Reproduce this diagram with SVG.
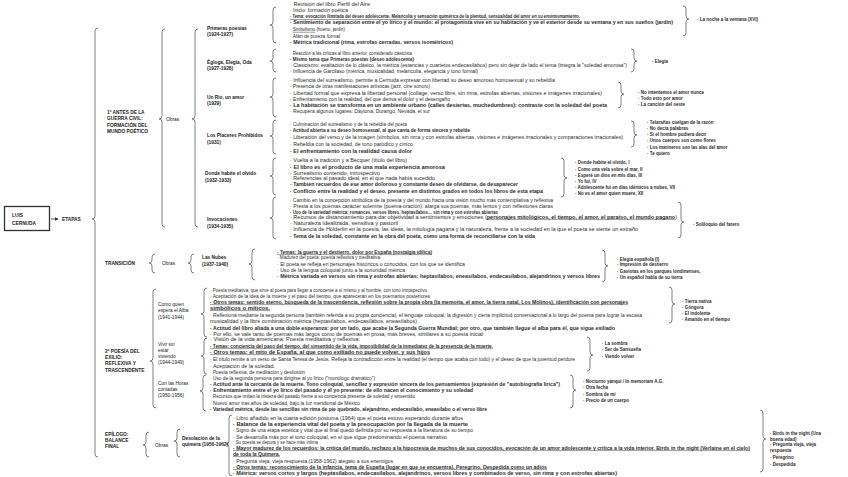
<svg xmlns="http://www.w3.org/2000/svg" width="848" height="477" viewBox="0 0 848 477">
<defs>
<style>
.t{font-family:"Liberation Sans",Arial,sans-serif;font-size:4.5px;fill:#2b2b2b}
.b{font-weight:bold}
.u{text-decoration:underline}
.h{font-family:"Liberation Sans",Arial,sans-serif;font-size:4.8px;font-weight:bold;fill:#222}
.n{font-family:"Liberation Sans",Arial,sans-serif;font-size:4.8px;fill:#222}
.br{fill:none;stroke:#808080;stroke-width:1}
.box{fill:#fff;stroke:#333;stroke-width:1.3}
</style>
<marker id="ah" viewBox="0 0 6 6" refX="5" refY="3" markerWidth="5" markerHeight="5" orient="auto"><path d="M0,0 L6,3 L0,6 z" fill="#333"/></marker>
</defs>
<rect width="848" height="477" fill="#fff"/>

<g id="connectors">
<line x1="51" y1="219" x2="58" y2="219" stroke="#333" stroke-width="0.8" marker-end="url(#ah)"/>
<path class="br" d="M98,28 Q95,28 95,31 L95,216 Q95,219 92,219 Q95,219 95,222 L95,454 Q95,457 98,457"/>
<path class="br" d="M165,29 Q162,29 162,32 L162,116 Q162,119 159,119 Q162,119 162,122 L162,224 Q162,227 165,227"/>
<path class="br" d="M198,29 Q195,29 195,32 L195,116 Q195,119 192,119 Q195,119 195,122 L195,224 Q195,227 198,227"/>
<path class="br" d="M276,7 Q273,7 273,10 L273,22 Q273,25 270,25 Q273,25 273,28 L273,40 Q273,43 276,43"/>
<path class="br" d="M276,49 Q273,49 273,52 L273,58 Q273,61 270,61 Q273,61 273,64 L273,69 Q273,72 276,72"/>
<path class="br" d="M276,78 Q273,78 273,81 L273,94 Q273,97 270,97 Q273,97 273,100 L273,114 Q273,117 276,117"/>
<path class="br" d="M276,120 Q273,120 273,123 L273,133 Q273,136 270,136 Q273,136 273,139 L273,151 Q273,154 276,154"/>
<path class="br" d="M276,158 Q273,158 273,161 L273,173 Q273,176 270,176 Q273,176 273,179 L273,192 Q273,195 276,195"/>
<path class="br" d="M276,197 Q273,197 273,200 L273,215 Q273,218 270,218 Q273,218 273,221 L273,236 Q273,239 276,239"/>
<path class="br" d="M155,254 Q152,254 152,257 L152,260 Q152,263 149,263 Q152,263 152,266 L152,270 Q152,273 155,273"/>
<path class="br" d="M194,254 Q191,254 191,257 L191,260 Q191,263 188,263 Q191,263 191,266 L191,270 Q191,273 194,273"/>
<path class="br" d="M255,249 Q252,249 252,252 L252,261 Q252,264 249,264 Q252,264 252,267 L252,277 Q252,280 255,280"/>
<path class="br" d="M156,289 Q153,289 153,292 L153,358 Q153,361 150,361 Q153,361 153,364 L153,405 Q153,408 156,408"/>
<path class="br" d="M207,288 Q204,288 204,291 L204,311 Q204,314 201,314 Q204,314 204,317 L204,334 Q204,337 207,337"/>
<path class="br" d="M207,338 Q204,338 204,341 L204,353 Q204,356 201,356 Q204,356 204,359 L204,371 Q204,374 207,374"/>
<path class="br" d="M206,375 Q203,375 203,378 L203,388 Q203,391 200,391 Q203,391 203,394 L203,408 Q203,411 206,411"/>
<path class="br" d="M149,432 Q146,432 146,435 L146,442 Q146,445 143,445 Q146,445 146,448 L146,454 Q146,457 149,457"/>
<path class="br" d="M180,429 Q177,429 177,432 L177,438 Q177,441 174,441 Q177,441 177,444 L177,454 Q177,457 180,457"/>
<path class="br" d="M232,415 Q229,415 229,418 L229,441 Q229,444 226,444 Q229,444 229,447 L229,473 Q229,476 232,476"/>
<path class="br" d="M683,6 Q686,6 686,9 L686,16 Q686,19 689,19 Q686,19 686,22 L686,33 Q686,36 683,36"/>
<path class="br" d="M631,49 Q634,49 634,52 L634,58 Q634,61 637,61 Q634,61 634,64 L634,69 Q634,72 631,72"/>
<path class="br" d="M618,82 Q621,82 621,85 L621,91 Q621,94 624,94 Q621,94 621,97 L621,105 Q621,108 618,108"/>
<path class="br" d="M631,121 Q634,121 634,124 L634,132 Q634,135 637,135 Q634,135 634,138 L634,144 Q634,147 631,147"/>
<path class="br" d="M561,158 Q564,158 564,161 L564,175 Q564,178 567,178 Q564,178 564,181 L564,194 Q564,197 561,197"/>
<path class="br" d="M678,202 Q681,202 681,205 L681,219 Q681,222 684,222 Q681,222 681,225 L681,235 Q681,238 678,238"/>
<path class="br" d="M602,250 Q605,250 605,253 L605,263 Q605,266 608,266 Q605,266 605,269 L605,279 Q605,282 602,282"/>
<path class="br" d="M669,287 Q672,287 672,290 L672,301 Q672,304 675,304 Q672,304 672,307 L672,320 Q672,323 669,323"/>
<path class="br" d="M587,337 Q590,337 590,340 L590,352 Q590,355 593,355 Q590,355 590,358 L590,368 Q590,371 587,371"/>
<path class="br" d="M570,375 Q573,375 573,378 L573,387 Q573,390 576,390 Q573,390 573,393 L573,405 Q573,408 570,408"/>
<path class="br" d="M760,410 Q763,410 763,413 L763,436 Q763,439 766,439 Q763,439 763,442 L763,469 Q763,472 760,472"/>
</g>

<g id="root">
<rect class="box" x="4.5" y="206.5" width="45" height="24"/>
<text class="h" x="12" y="217">LUIS</text>
<text class="h" x="12" y="224.5">CERNUDA</text>
</g>
<g id="etapas"><text class="h" x="62" y="220.8">ETAPAS</text></g>

<g id="etapa1">
<text class="h" x="107" y="114">1º ANTES DE LA</text>
<text class="h" x="107" y="120.4">GUERRA CIVIL:</text>
<text class="h" x="107" y="126.8">FORMACIÓN DEL</text>
<text class="h" x="107" y="133.2">MUNDO POÉTICO</text>
<text class="n" x="166" y="120.6">Obras</text>
</g>

<g id="primeras">
<text class="h" x="207" y="29.6">Primeras poesías</text>
<text class="h" x="207" y="35.8">(1924-1927)</text>
<text class="t" x="290" y="5.6" textLength="80" lengthAdjust="spacingAndGlyphs">· Revisión del libro Perfil del Aire</text>
<text class="t" x="290" y="11.6" textLength="58" lengthAdjust="spacingAndGlyphs">· Inicio: formación poética</text>
<text class="t b u" x="290" y="18.3" textLength="290" lengthAdjust="spacingAndGlyphs">· Tema: evocación ilimitada del deseo adolescente. Melancolía y sensación quimérica de la plenitud, sensualidad del amor en su ensimismamiento.</text>
<text class="t b" x="290" y="24.3" textLength="383" lengthAdjust="spacingAndGlyphs">· Sentimiento de separación entre el yo lírico y el mundo: el protagonista vive en su habitación y ve el exterior desde su ventana y en sus sueños (jardín)</text>
<text class="t" x="290" y="30.9" textLength="55" lengthAdjust="spacingAndGlyphs">· <tspan class="u">Simbolismo</tspan> (huerto, jardín)</text>
<text class="t" x="290" y="37.6" textLength="50" lengthAdjust="spacingAndGlyphs">· Afán de pureza formal</text>
<text class="t b" x="290" y="44.3" textLength="163" lengthAdjust="spacingAndGlyphs">· Métrica tradicional (rima, estrofas cerradas, versos isométricos)</text>
<text class="t b" x="697" y="20.6">· La noche a la ventana (XVI)</text>
</g>

<g id="egloga">
<text class="h" x="207" y="63.6">Égloga, Elegía, Oda</text>
<text class="h" x="207" y="69.8">(1927-1928)</text>
<text class="t" x="290" y="54.6" textLength="122" lengthAdjust="spacingAndGlyphs">· Reacción a las críticas al libro anterior, considerado clasicista</text>
<text class="t b" x="290" y="60.6" textLength="124" lengthAdjust="spacingAndGlyphs">· Mismo tema que Primeras poesías (deseo adolescente)</text>
<text class="t" x="290" y="66.6" textLength="337" lengthAdjust="spacingAndGlyphs">· Clasicismo: exaltación de lo clásico, la métrica (estancias y cuartetos endecasílabos) pero sin dejar de lado el tema (integra la "soledad amorosa")</text>
<text class="t" x="290" y="72.6" textLength="188" lengthAdjust="spacingAndGlyphs">· Influencia de Garcilaso (métrica, musicalidad, melancolía, elegancia y tono formal)</text>
<text class="t b" x="652" y="62.6">· Elegía</text>
</g>

<g id="unrio">
<text class="h" x="207" y="98.6">Un Río, un amor</text>
<text class="h" x="207" y="104.8">(1929)</text>
<text class="t" x="290" y="81.6" textLength="265" lengthAdjust="spacingAndGlyphs">· Influencia del surrealismo, permite a Cernuda expresar con libertad su deseo amoroso homosexual y su rebeldía</text>
<text class="t" x="290" y="87.6" textLength="140" lengthAdjust="spacingAndGlyphs">· Presencia de otras manifestaciones artísticas (jazz, cine sonoro)</text>
<text class="t" x="290" y="94.6" textLength="312" lengthAdjust="spacingAndGlyphs">· Libertad formal que expresa la libertad personal (collage, verso libre, sin rima, estrofas abiertas, visiones e imágenes irracionales)</text>
<text class="t" x="290" y="100.6" textLength="160" lengthAdjust="spacingAndGlyphs">· Enfrentamiento con la realidad, del que deriva el dolor y el desengaño</text>
<text class="t b" x="290" y="106.6" textLength="317" lengthAdjust="spacingAndGlyphs">· La habitación se transforma en un ambiente urbano (calles desiertas, muchedumbres): contraste con la soledad del poeta</text>
<text class="t" x="290" y="112.6" textLength="140" lengthAdjust="spacingAndGlyphs">· Recupera algunos lugares: Daytona, Durango, Nevada, el sur</text>
<text class="t b" x="638" y="94.3">· No intentemos el amor nunca</text>
<text class="t b" x="638" y="100.3">· Todo esto por amor</text>
<text class="t b" x="638" y="105.9">· La canción del oeste</text>
</g>

<g id="placeres">
<text class="h" x="207" y="136.6">Los Placeres Prohibidos</text>
<text class="h" x="207" y="143.6">(1931)</text>
<text class="t" x="290" y="125.6" textLength="117" lengthAdjust="spacingAndGlyphs">· Culminación del surrealismo y de la rebeldía del poeta</text>
<text class="t b" x="290" y="131.6" textLength="180" lengthAdjust="spacingAndGlyphs">· Actitud abierta a su deseo homosexual, al que canta de forma sincera y rebelde</text>
<text class="t" x="290" y="138.6" textLength="333" lengthAdjust="spacingAndGlyphs">· Liberación del verso y de la imagen (símbolos, sin rima y con estrofas abiertas, visiones e imágenes irracionales y comparaciones irracionales)</text>
<text class="t" x="290" y="145.6" textLength="123" lengthAdjust="spacingAndGlyphs">· Rebeldía con la sociedad, de tono paródico y cínico</text>
<text class="t b" x="290" y="152.6" textLength="122" lengthAdjust="spacingAndGlyphs">· El enfrentamiento con la realidad causa dolor</text>
<text class="t b" x="647" y="123.6">· Telarañas cuelgan de la razón</text>
<text class="t b" x="647" y="129.6">· No decía palabras</text>
<text class="t b" x="647" y="135.6">· Si el hombre pudiera decir</text>
<text class="t b" x="647" y="141.6">· Unos cuerpos son como flores</text>
<text class="t b" x="647" y="148.6">· Los marineros son las alas del amor</text>
<text class="t b" x="647" y="154.6">· Te quiero</text>
</g>

<g id="donde">
<text class="h" x="205" y="174.6">Donde habite el olvido</text>
<text class="h" x="205" y="181.6">(1932-1933)</text>
<text class="t" x="290" y="161.6" textLength="117" lengthAdjust="spacingAndGlyphs">· Vuelta a la tradición y a Bécquer (título del libro)</text>
<text class="t b" x="290" y="168.6" textLength="155" lengthAdjust="spacingAndGlyphs">· El libro es el producto de una mala experiencia amorosa</text>
<text class="t" x="290" y="174.6" textLength="90" lengthAdjust="spacingAndGlyphs">· Surrealismo contenido, introspectivo</text>
<text class="t" x="290" y="179.6" textLength="145" lengthAdjust="spacingAndGlyphs">· Referencias al pasado ideal, en el que nada había sucedido</text>
<text class="t b" x="290" y="185.6" textLength="228" lengthAdjust="spacingAndGlyphs">· También recuerdos de ese amor doloroso y constante deseo de olvidarse, de desaparecer</text>
<text class="t b" x="290" y="192.6" textLength="253" lengthAdjust="spacingAndGlyphs">· Conflicto entre la realidad y el deseo, presente en distintos grados en todos los libros de esta etapa</text>
<text class="t b" x="575" y="163.6">· Donde habite el olvido, I</text>
<text class="t b" x="575" y="170.6">· Como una vela sobre el mar, II</text>
<text class="t b" x="575" y="176.6">· Esperé un dios en mis días, III</text>
<text class="t b" x="575" y="182.6">· Yo fui, IV</text>
<text class="t b" x="575" y="188.6">· Adolescente fui en días idénticos a nubes, VII</text>
<text class="t b" x="575" y="194.6">· No es el amor quien muere, XII</text>
</g>

<g id="invocaciones">
<text class="h" x="207" y="220.6">Invocaciones</text>
<text class="h" x="207" y="227.6">(1934-1935)</text>
<text class="t" x="290" y="201.6" textLength="263" lengthAdjust="spacingAndGlyphs">· Cambio en la concepción simbólica de la poesía y del mundo hacia una visión mucho más contemplativa y reflexiva</text>
<text class="t" x="290" y="207.6" textLength="263" lengthAdjust="spacingAndGlyphs">· Presta a los poemas carácter solemne (poema-oración): alarga sus poemas, más lentos y con reflexiones claras</text>
<text class="t b" x="290" y="213.6" textLength="208" lengthAdjust="spacingAndGlyphs">· Uso de la variedad métrica: romances, versos libres, heptasílabos… sin rima y con estrofas abiertas</text>
<text class="t" x="290" y="218.6" textLength="387" lengthAdjust="spacingAndGlyphs">· Recursos de distanciamiento para dar objetividad a sentimientos y emociones (<tspan class="u b">personajes mitológicos, el tiempo, el amor, el paraíso, el mundo pagano</tspan>)</text>
<text class="t" x="290" y="224.6" textLength="108" lengthAdjust="spacingAndGlyphs">· Naturaleza idealizada, sensitiva y pastoril</text>
<text class="t" x="290" y="230.6" textLength="348" lengthAdjust="spacingAndGlyphs">· Influencia de Hölderlin en la poesía, las ideas, la mitología pagana y la naturaleza, frente a la sociedad en la que el poeta se siente un extraño</text>
<text class="t b" x="290" y="237.6" textLength="245" lengthAdjust="spacingAndGlyphs">· Tema de la soledad, constante en la obra del poeta, como una forma de reconciliarse con la vida</text>
<text class="t b" x="693" y="225.6">· Soliloquio del farero</text>
</g>

<g id="transicion">
<text class="h" x="105" y="264.6">TRANSICIÓN</text>
<text class="n" x="162" y="264.6">Obras</text>
<text class="h" x="202" y="258.6">Las Nubes</text>
<text class="h" x="202" y="265.6">(1937-1940)</text>
<text class="t b u" x="277" y="253.6" textLength="155" lengthAdjust="spacingAndGlyphs">· Temas: la guerra y el destierro, dolor por España (nostalgia idílica)</text>
<text class="t" x="277" y="258.6" textLength="103" lengthAdjust="spacingAndGlyphs">· Madurez del poeta: poesía reflexiva y meditativa</text>
<text class="t" x="277" y="265.6" textLength="188" lengthAdjust="spacingAndGlyphs">· El poeta se refleja en personajes históricos o conocidos, con los que se identifica</text>
<text class="t" x="277" y="271.6" textLength="128" lengthAdjust="spacingAndGlyphs">· Uso de la lengua coloquial junto a la sonoridad métrica</text>
<text class="t b" x="277" y="277.6" textLength="323" lengthAdjust="spacingAndGlyphs">· Métrica variada en versos sin rima y estrofas abiertas: heptasílabos, eneasílabos, endecasílabos, alejandrinos y versos libres</text>
<text class="t b" x="617" y="260.6">· Elegía española (I)</text>
<text class="t b" x="617" y="265.6">· Impresión de destierro</text>
<text class="t b" x="617" y="272.6">· Gaviotas en los parques londinenses,</text>
<text class="t b" x="617" y="278.6">· Un español habla de su tierra</text>
</g>

<g id="etapa2">
<text class="h" x="105" y="352.6">2º POESÍA DEL</text>
<text class="h" x="105" y="359">EXILIO:</text>
<text class="h" x="105" y="365.4">REFLEXIVA Y</text>
<text class="h" x="105" y="371.8">TRASCENDENTE</text>
</g>

<g id="comoquien">
<text class="n" x="158" y="305.6">Como quien</text>
<text class="n" x="158" y="312.4">espera el Alba</text>
<text class="n" x="158" y="319.2">(1941-1944)</text>
<text class="t" x="210" y="291.6" textLength="217" lengthAdjust="spacingAndGlyphs">· Poesía meditativa, que sirve al poeta para llegar a conocerse a sí mismo y al hombre, con tono introspectivo</text>
<text class="t" x="210" y="297.6" textLength="220" lengthAdjust="spacingAndGlyphs">· Aceptación de la idea de la muerte y el paso del tiempo, que aparecerán en los poemarios posteriores</text>
<text class="t b u" x="210" y="303.6" textLength="418" lengthAdjust="spacingAndGlyphs">· Otros temas: sentido eterno, búsqueda de la trascendencia, reflexión sobre la propia obra (la memoria, el amor, la tierra natal, Los Molinos), identificación con personajes</text>
<text class="t b u" x="210" y="309.6" textLength="60" lengthAdjust="spacingAndGlyphs">simbólicos o míticos.</text>
<text class="t" x="210" y="316.6" textLength="432" lengthAdjust="spacingAndGlyphs">· Reflexiona mediante la segunda persona (también referida a su propia conciencia), el lenguaje coloquial, la digresión y cierta implicitud conversacional a lo largo del poema para lograr la escasa</text>
<text class="t" x="210" y="322.6" textLength="207" lengthAdjust="spacingAndGlyphs">musicalidad y la libre combinación métrica (heptasílabos, endecasílabos, eneasílabos)</text>
<text class="t b" x="210" y="329.6" textLength="405" lengthAdjust="spacingAndGlyphs">· Actitud del libro aliada a una doble esperanza: por un lado, que acabe la Segunda Guerra Mundial; por otro, que también llegue el alba para él, que sigue exiliado</text>
<text class="t" x="210" y="335.6" textLength="273" lengthAdjust="spacingAndGlyphs">· Por ello, se vale tanto de poemas más largos como de poemas en prosa, más breves, similares a su poesía inicial</text>
<text class="t b" x="682" y="302.6">· Tierra nativa</text>
<text class="t b" x="682" y="308.6">· Góngora</text>
<text class="t b" x="682" y="314.6">· El indolente</text>
<text class="t b" x="682" y="320.6">· Amando en el tiempo</text>
</g>

<g id="vivir">
<text class="n" x="158" y="345.6">Vivir sin</text>
<text class="n" x="158" y="351.6">estar</text>
<text class="n" x="158" y="357.6">viviendo</text>
<text class="n" x="158" y="363.6">(1944-1949)</text>
<text class="t" x="210" y="340.6" textLength="150" lengthAdjust="spacingAndGlyphs">· Visión de la vida americana: Poesía meditativa y reflexiva:</text>
<text class="t b u" x="210" y="347.6" textLength="283" lengthAdjust="spacingAndGlyphs">· Temas: conciencia del paso del tiempo, del sinsentido de la vida, imposibilidad de la inmediatez de la presencia de la muerte.</text>
<text class="t b u" x="210" y="353.6" textLength="220" lengthAdjust="spacingAndGlyphs">· Otros temas: el mito de España, al que como exiliado no puede volver, y sus hijos</text>
<text class="t" x="210" y="360.6" textLength="365" lengthAdjust="spacingAndGlyphs">· El título remite a un verso de Santa Teresa de Jesús. Refleja la contradicción entre la realidad (el tiempo que acaba con todo) y el deseo de que la juventud perdure</text>
<text class="t" x="210" y="367.6" textLength="65" lengthAdjust="spacingAndGlyphs">· Aceptación de la soledad.</text>
<text class="t" x="210" y="373.6" textLength="95" lengthAdjust="spacingAndGlyphs">· Poesía reflexiva, de meditación y desilusión</text>
<text class="t b" x="602" y="344.6">· La sombra</text>
<text class="t b" x="602" y="350.6">· Ser de Sansueña</text>
<text class="t b" x="602" y="357.6">· Viendo volver</text>
</g>

<g id="horas">
<text class="n" x="158" y="384.6">Con las Horas</text>
<text class="n" x="158" y="390.6">contadas</text>
<text class="n" x="158" y="396.6">(1950-1956)</text>
<text class="t" x="210" y="379.6" textLength="165" lengthAdjust="spacingAndGlyphs">· Uso de la segunda persona para dirigirse al yo lírico ("monólogo dramático")</text>
<text class="t b" x="210" y="385.6" textLength="350" lengthAdjust="spacingAndGlyphs">· Actitud ante la cercanía de la muerte. Tono coloquial, sencillez y expresión sincera de los pensamientos (expresión de "autobiografía lírica")</text>
<text class="t b" x="210" y="391.6" textLength="263" lengthAdjust="spacingAndGlyphs">· Enfrentamiento entre el yo lírico del pasado y el yo presente: de ello nacen el conocimiento y su soledad</text>
<text class="t" x="210" y="397.6" textLength="205" lengthAdjust="spacingAndGlyphs">· Recursos que imitan la tristeza del pasado frente a su conciencia presente de soledad y sinsentido</text>
<text class="t" x="210" y="404.6" textLength="150" lengthAdjust="spacingAndGlyphs">· Nuevo amor tras años de soledad, bajo la luz meridional de México</text>
<text class="t b" x="210" y="410.6" textLength="277" lengthAdjust="spacingAndGlyphs">· Variedad métrica, desde las sencillas sin rima de pie quebrado, alejandrino, endecasílabo, eneasílabo o el verso libre</text>
<text class="t b" x="583" y="382.6">· Nocturno yanqui / In memoriam A.G.</text>
<text class="t b" x="583" y="388.6">· Otra fecha</text>
<text class="t b" x="583" y="395.6">· Sombra de mí</text>
<text class="t b" x="583" y="401.6">· Precio de un cuerpo</text>
</g>

<g id="epilogo">
<text class="h" x="105" y="435.6">EPÍLOGO:</text>
<text class="h" x="105" y="442">BALANCE</text>
<text class="h" x="105" y="448.4">FINAL</text>
<text class="n" x="155" y="446.6">Obras</text>
<text class="h" x="182" y="439.6">Desolación de la</text>
<text class="h" x="182" y="445.6">quimera (1956-1962)</text>
<text class="t" x="233" y="419.6" textLength="230" lengthAdjust="spacingAndGlyphs">· Libro añadido en la cuarta edición póstuma (1964) que el poeta estuvo esperando durante años</text>
<text class="t b" x="233" y="425.6" textLength="235" lengthAdjust="spacingAndGlyphs">· Balance de la experiencia vital del poeta y la preocupación por la llegada de la muerte</text>
<text class="t" x="233" y="431.6" textLength="240" lengthAdjust="spacingAndGlyphs">· Signo de una etapa estética y vital que al final quedó definida por su respuesta a la literatura de su tiempo</text>
<text class="t" x="233" y="438.6" textLength="214" lengthAdjust="spacingAndGlyphs">· Se desarrolla más por el tono coloquial, en el que sigue predominando el poema narrativo</text>
<text class="t" x="233" y="443.6" textLength="85" lengthAdjust="spacingAndGlyphs">· Su poesía se depura y se hace más íntima</text>
<text class="t b u" x="233" y="449.6" textLength="517" lengthAdjust="spacingAndGlyphs">· Mayor madurez de los recuerdos: la crítica del mundo, rechazo a la hipocresía de muchos de sus conocidos, evocación de un amor adolescente y crítica a la vida interior. Birds in the night (Verlaine en el cielo)</text>
<text class="t b u" x="233" y="455.6" textLength="47" lengthAdjust="spacingAndGlyphs">de toda la Quimera.</text>
<text class="t" x="233" y="462.6" textLength="160" lengthAdjust="spacingAndGlyphs">· Pregunta vieja, vieja respuesta (1958-1962) alegato a sus enemigos</text>
<text class="t b u" x="233" y="468.6" textLength="314" lengthAdjust="spacingAndGlyphs">· Otros temas: reconocimiento de la infancia, tema de España (lugar en que se encuentra), Peregrino, Despedida como un adiós</text>
<text class="t b" x="233" y="474.6" textLength="384" lengthAdjust="spacingAndGlyphs">· Métrica: versos cortos y largos (heptasílabos, endecasílabos, alejandrinos, versos libres y combinados de verso, sin rima y con estrofas abiertas)</text>
<text class="t b" x="770" y="434.6">· Birds in the night (Una</text>
<text class="t b" x="770" y="440.6">buena edad)</text>
<text class="t b" x="770" y="445.6">· Pregunta vieja, vieja</text>
<text class="t b" x="770" y="451.6">respuesta</text>
<text class="t b" x="770" y="458.6">· Peregrino</text>
<text class="t b" x="770" y="465.6">· Despedida</text>
</g>
</svg>
